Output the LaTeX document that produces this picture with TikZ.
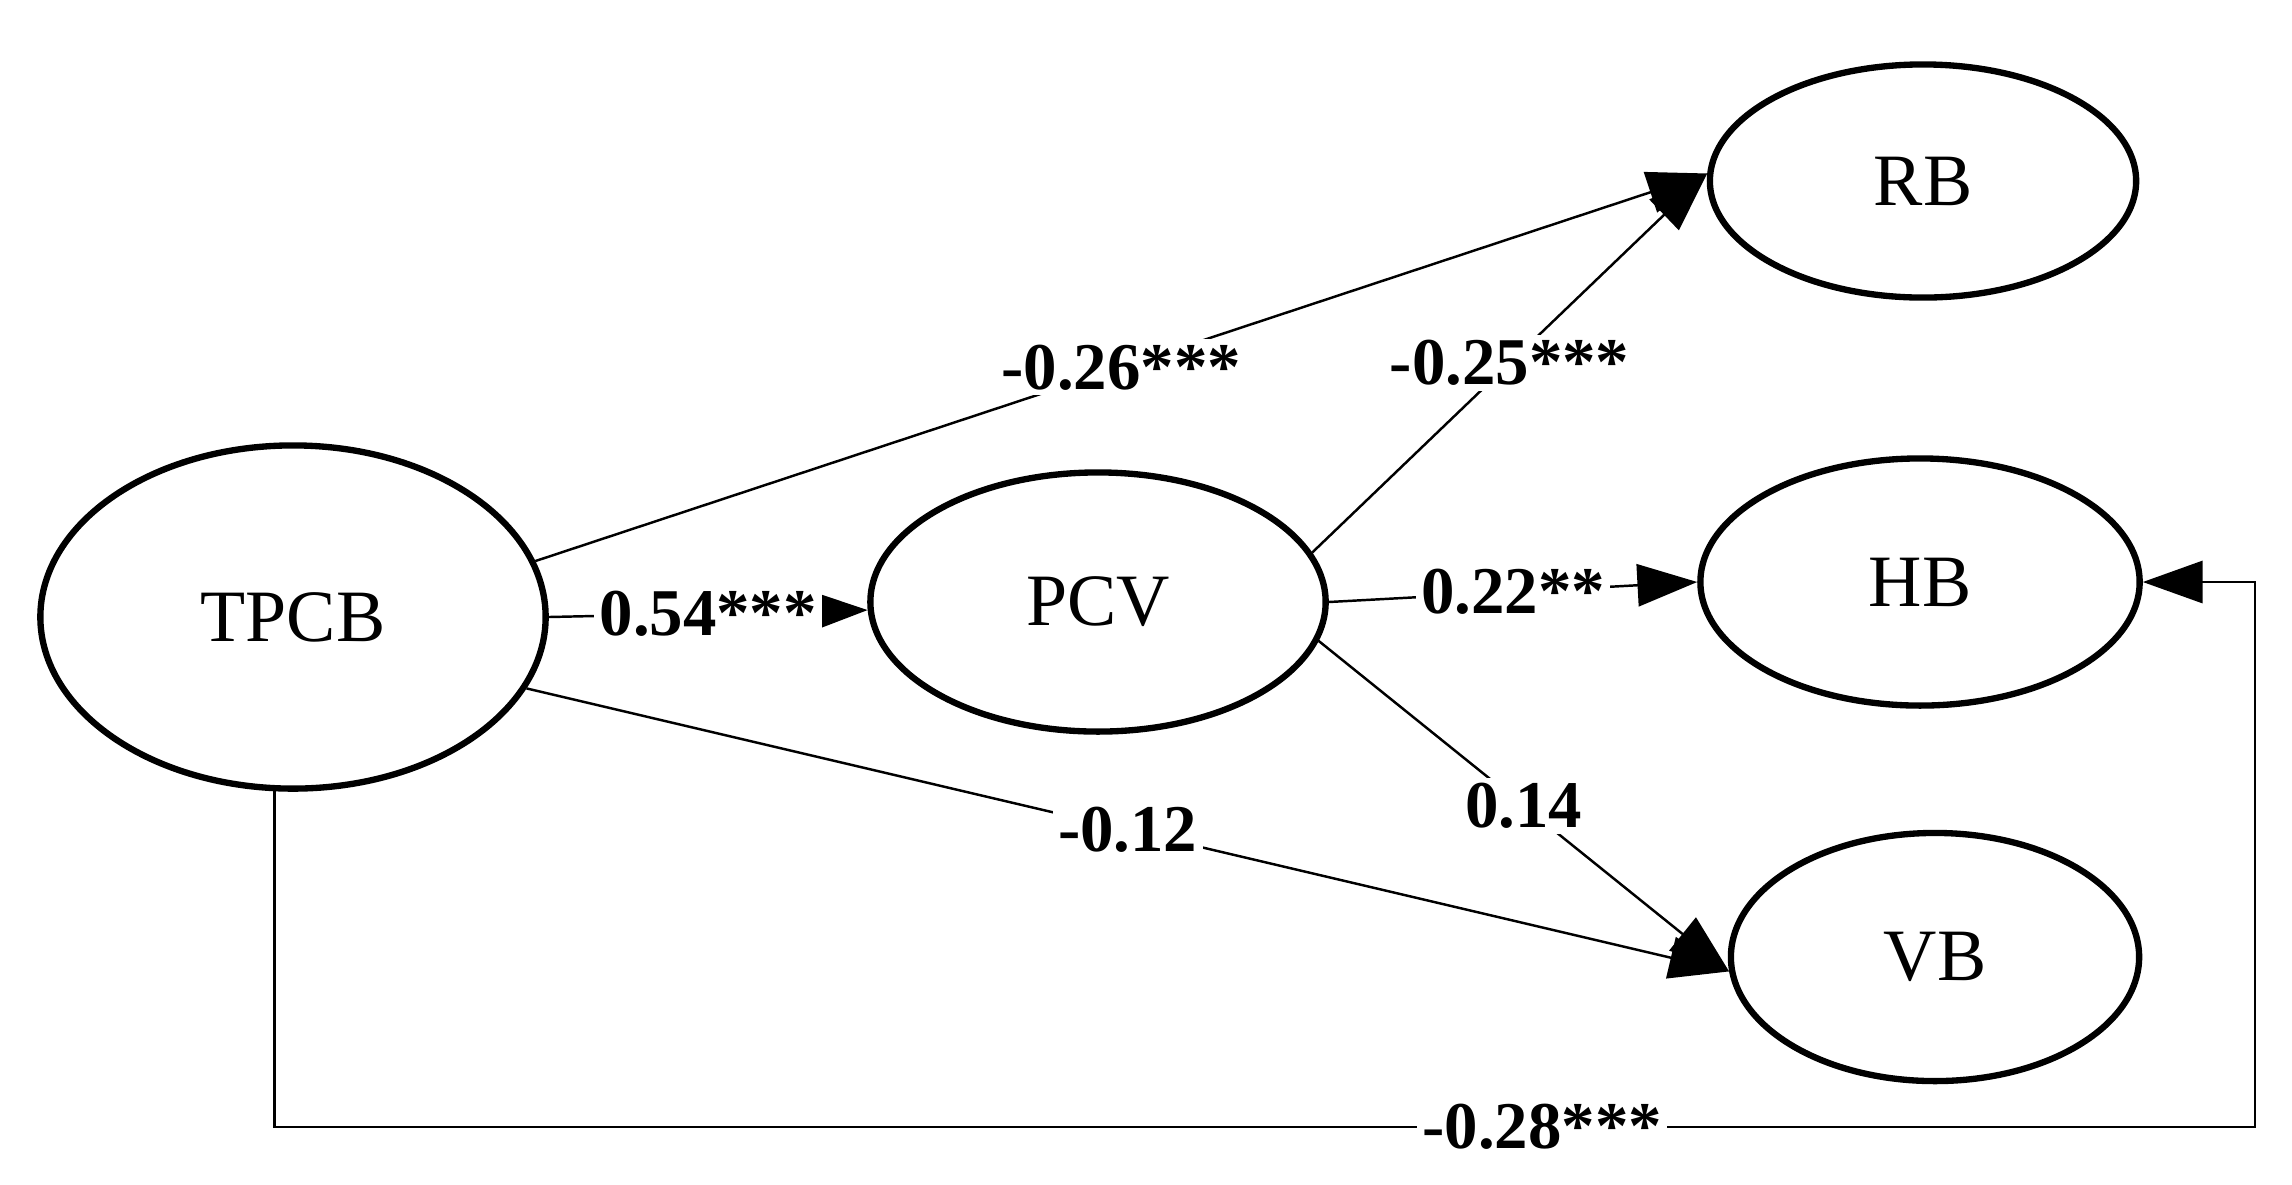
\documentclass[tikz,border=0pt]{standalone}
\usepackage{fontspec}
\setmainfont{Liberation Serif}
\usetikzlibrary{shapes.geometric,arrows.meta}
\begin{document}
\begin{tikzpicture}[x = 0.01cm, y = -0.01cm,
  latent/.style = {ellipse, draw, line width = 1.8pt, inner sep = 0pt, font = \fontsize{21}{24}\selectfont},
  effect/.style = {line width = 0.7pt, -{Triangle[length = 17pt, width = 12pt]}},
  coef/.style = {fill = white, inner sep = 1.5pt, font = \fontsize{19}{22}\selectfont\bfseries}]
\useasboundingbox (0,0) rectangle (2292,1184);
\node [latent, minimum width = 5.05cm, minimum height = 3.43cm] (tpcb) at (293,617) {TPCB};
\node [latent, minimum width = 4.55cm, minimum height = 2.59cm] (pcv) at (1098,602) {PCV};
\node [latent, minimum width = 4.26cm, minimum height = 2.33cm] (rb) at (1923,181) {RB};
\node [latent, minimum width = 4.39cm, minimum height = 2.47cm] (hb) at (1920,582) {HB};
\node [latent, minimum width = 4.08cm, minimum height = 2.48cm] (vb) at (1935,957) {VB};
\coordinate (turn) at (2255,1127); % corner of the long path
\draw [effect] (tpcb.east) -- node [coef] {0.54***} (pcv.182);
\draw [effect] (tpcb.13) -- node [coef] {-0.26***} (rb.178);
\draw [effect] (tpcb.343) -- node [coef] {-0.12} (vb.184);
\draw [effect] (pcv.13) -- node [coef] {-0.25***} (rb.178);
\draw [effect] (pcv.east) -- node [coef] {0.22**} (hb.west);
\draw [effect] (pcv.350) -- node [coef] {0.14} (vb.184);
\draw [effect] (tpcb.264) |- node [coef, pos = 0.82] {-0.28***} (turn) |- (hb.east);
\end{tikzpicture}
\end{document}
